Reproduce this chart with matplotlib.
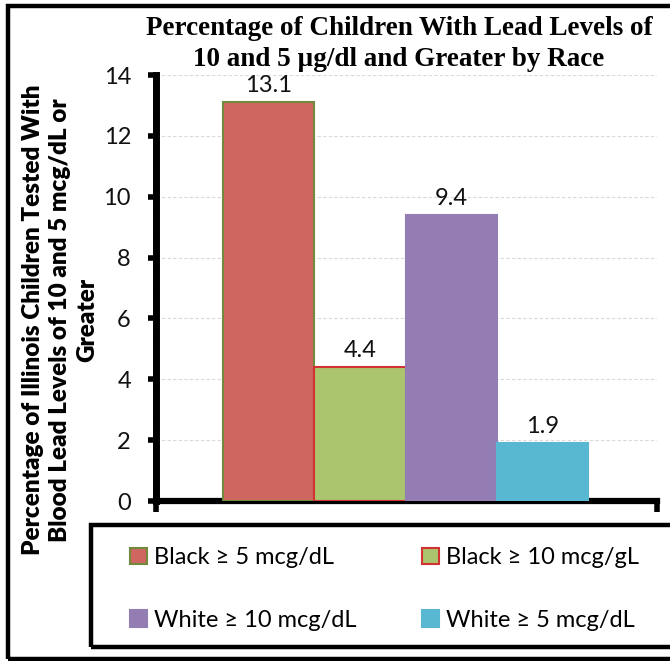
import matplotlib
matplotlib.use("Agg")
import matplotlib.pyplot as plt
from matplotlib.patches import Rectangle
from matplotlib.ticker import MultipleLocator

# data
series = ["Black \u2265 5 mcg/dL", "Black \u2265 10 mcg/gL",
          "White \u2265 10 mcg/dL", "White \u2265 5 mcg/dL"]
values = [13.1, 4.4, 9.4, 1.9]
colors = ["#CF6660", "#ABC46E", "#937DB3", "#58B8D2"]
edges = ["#6F8B3B", "#D23232", "#937DB3", "#58B8D2"]

TITLE = "Percentage of Children With Lead Levels of\n10 and 5 \u00b5g/dl and Greater by Race"
YLABEL = ("Percentage of Illinois Children Tested With\n"
          "Blood Lead Levels of 10 and 5 mcg/dL or\nGreater")

W, H = 670, 661
SANS = "Lato"

fig = plt.figure(figsize=(W / 100, H / 100), dpi=100)


def fx(px):
    return px / W


def fy(py):
    return 1 - py / H


ax = fig.add_axes([fx(156), fy(501), fx(657) - fx(156), fy(75) - fy(501)])

bars = []
for i, (lab, v, c, e) in enumerate(zip(series, values, colors, edges)):
    b = ax.bar(i, v, width=1.0, color=c, edgecolor=e, linewidth=1.5,
               label=lab, zorder=3)
    bars.append(b)
    ax.text(i, v + 0.2, f"{v:.1f}", ha="center", va="bottom",
            fontsize=17, family=SANS, color="#111111")

ax.set_xlim(-1.24, 4.26)
ax.set_ylim(0, 14)
ax.yaxis.set_major_locator(MultipleLocator(2))
ax.yaxis.set_minor_locator(MultipleLocator(0.2))
ax.set_xticks([-1.24, 4.26])
ax.set_xticklabels([])
ax.tick_params(axis="y", which="major", direction="out", length=6, width=4,
               labelsize=17, pad=12, labelcolor="#111111")
ax.tick_params(axis="y", which="minor", direction="inout", length=5, width=2.2)
ax.tick_params(axis="x", which="major", direction="out", length=8, width=4)
for lbl in ax.get_yticklabels():
    lbl.set_family(SANS)
ax.grid(axis="y", color="#D9D9D9", linestyle=(0, (3, 2)), linewidth=0.8, zorder=0)
for s in ["top", "right"]:
    ax.spines[s].set_visible(False)
ax.spines["left"].set_linewidth(5)
ax.spines["bottom"].set_linewidth(4.5)

fig.text(fx(399), fy(44), TITLE, ha="center", va="center",
         family="Liberation Serif", fontweight="bold", fontsize=19.5,
         linespacing=1.3)
fig.text(fx(60), fy(320), YLABEL, ha="center", va="center", rotation=90,
         family=SANS, fontweight="heavy", fontsize=17.5, linespacing=1.3)

# legend: row 1 Black 5 / Black 10, row 2 White 10 / White 5
order = [0, 2, 1, 3]
leg = fig.legend([bars[k] for k in order], [series[k] for k in order],
                 ncol=2, loc="center left", bbox_to_anchor=(fx(109), fy(589)),
                 frameon=False, prop={"family": SANS, "size": 17},
                 handlelength=0.7, handleheight=0.7, handletextpad=0.3,
                 labelspacing=1.75, columnspacing=2.8)

# legend frame and outer chart border
fig.patches.append(Rectangle((fx(90.5), fy(646.5)), 1.0, fy(524.5) - fy(646.5),
                             transform=fig.transFigure, fill=False,
                             linewidth=3.2, edgecolor="black"))
fig.patches.append(Rectangle((fx(7.5), fy(658.5)), 1.05, fy(5.5) - fy(658.5),
                             transform=fig.transFigure, fill=False,
                             linewidth=3.2, edgecolor="black"))

fig.savefig("out.png", dpi=100)
